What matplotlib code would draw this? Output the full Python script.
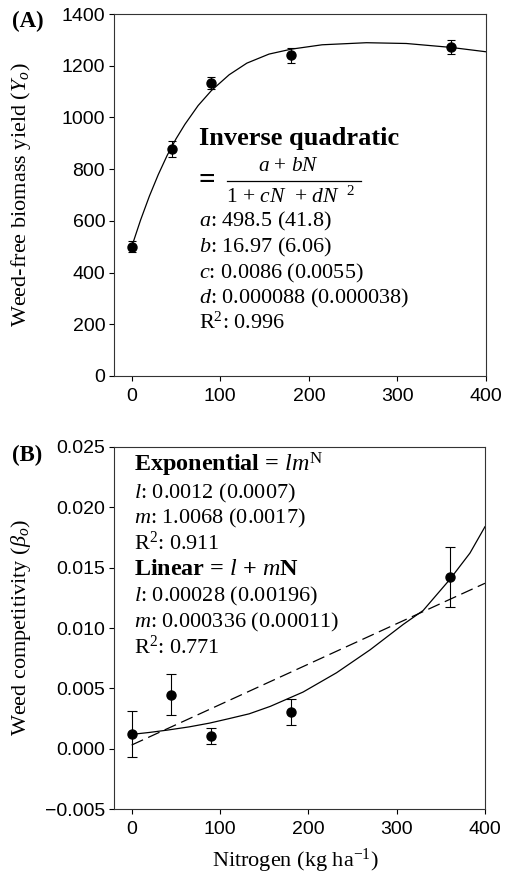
import numpy as np
import matplotlib
matplotlib.use('Agg')
import matplotlib.pyplot as plt

# data
nitrogen = [0, 45, 90, 180, 360]

yield_mean = [500, 878, 1132, 1240, 1272]
yield_err = [22, 30, 23, 30, 26]

# fitted inverse quadratic curve
curve_a_n = [0, 10, 20, 30, 40, 50, 60, 75, 90, 110, 130, 155, 180, 215, 265, 310, 360, 400]
curve_a_y = [500, 603, 696, 779, 853, 917, 973, 1046, 1104, 1165, 1210, 1245, 1264, 1281, 1289, 1286, 1271, 1254]

beta_mean = [0.00121, 0.00447, 0.00108, 0.00306, 0.01423]
beta_err = [0.0019, 0.0017, 0.00066, 0.00105, 0.0025]

# exponential fit (solid) and linear fit (dashed)
curve_b_n = [0, 20, 40, 65, 88, 110, 133, 157, 194, 232, 270, 307.5, 330, 360, 383, 400]
curve_b_y = [0.0012, 0.00136, 0.00155, 0.00182, 0.00213, 0.0025, 0.0029, 0.00352, 0.0047,
             0.0063, 0.0082, 0.0103, 0.01145, 0.0140, 0.0162, 0.01838]
linear_n = [0, 400]
linear_y = [0.00032, 0.0137]

plt.rcParams['font.family'] = ['Liberation Sans', 'DejaVu Sans']
plt.rcParams['mathtext.fontset'] = 'custom'
plt.rcParams['mathtext.rm'] = 'Liberation Serif'
plt.rcParams['mathtext.it'] = 'Liberation Serif:italic'
plt.rcParams['mathtext.bf'] = 'Liberation Serif:bold'

serif = 'Liberation Serif'

fig = plt.figure(figsize=(5.08, 8.76), dpi=100)
ax1 = fig.add_axes([0.2244, 0.5708, 0.7323, 0.4132])
ax2 = fig.add_axes([0.2244, 0.0761, 0.7303, 0.4140])

for ax in (ax1, ax2):
    ax.tick_params(direction='out', length=3.3, width=0.8, labelsize=14)
    ax.tick_params(axis='x', pad=5)
    ax.tick_params(axis='y', pad=3)
    for s in ax.spines.values():
        s.set_linewidth(0.8)
        s.set_color('#333333')
    ax.set_xlim(-20, 400)
    ax.set_xticks([0, 100, 200, 300, 400])

# ---- panel A ----
ax1.plot(curve_a_n, curve_a_y, color='black', lw=0.9)
ax1.errorbar(nitrogen, yield_mean, yerr=yield_err, fmt='o', color='black',
             ms=6.5, capsize=3.2, elinewidth=0.8, capthick=0.8)
ax1.set_ylim(0, 1400)
ax1.set_yticks(range(0, 1401, 200))
ax1.set_ylabel('Weed-free biomass yield ($Y_o$)', family=serif, fontsize=16)
ax1.yaxis.set_label_coords(-0.218, 0.5)

tA = ax1.transAxes
ax1.text(0.228, 0.657, 'Inverse quadratic', transform=tA, family=serif,
         fontweight='bold', fontsize=19, va='center')
ax1.text(0.226, 0.541, '=', transform=tA, family=serif, fontweight='bold',
         fontsize=21, va='center')
ax1.text(0.468, 0.578, '$a$ + $bN$', transform=tA, family=serif, fontsize=15.3,
         ha='center', va='center')
ax1.plot([0.303, 0.663], [0.539, 0.539], transform=tA, color='black', lw=0.9)
ax1.text(0.473, 0.494, '1 + $cN$  + $dN$ $^{\\ 2}$', transform=tA, family=serif,
         fontsize=15.5, ha='center', va='center')
params_a = ['$a$: 498.5 (41.8)', '$b$: 16.97 (6.06)', '$c$: 0.0086 (0.0055)',
            '$d$: 0.000088 (0.000038)', 'R$^2$: 0.996']
ys_a = [0.426, 0.356, 0.284, 0.215, 0.146]
for txt, yy in zip(params_a, ys_a):
    ax1.text(0.228, yy, txt, transform=tA, family=serif, fontsize=15.9, va='center')

# ---- panel B ----
ax2.plot(curve_b_n, curve_b_y, color='black', lw=0.9)
ax2.plot(linear_n, linear_y, color='black', lw=0.9, linestyle=(0, (10, 4.5)))
ax2.errorbar(nitrogen, beta_mean, yerr=beta_err, fmt='o', color='black',
             ms=6.5, capsize=3.6, elinewidth=0.8, capthick=0.8)
ax2.set_ylim(-0.005, 0.025)
ax2.set_yticks(np.arange(-0.005, 0.0251, 0.005))
ax2.set_yticklabels(['\u22120.005', '0.000', '0.005', '0.010', '0.015', '0.020', '0.025'])
ax2.set_ylabel('Weed competitivity ($\\beta_o$)', family=serif, fontsize=16)
ax2.yaxis.set_label_coords(-0.218, 0.5)
ax2.set_xlabel('Nitrogen (kg ha$^{\\mathrm{-1}}$)', family=serif, fontsize=16)
ax2.xaxis.set_label_coords(0.488, -0.103)

tB = ax2.transAxes
ax2.text(0.054, 0.949, 'Exponential = $lm^{\\mathrm{N}}$', transform=tB, family=serif,
         fontweight='bold', fontsize=17.4, va='center')
lines_b = [('$l$: 0.0012 (0.0007)', 0.871), ('$m$: 1.0068 (0.0017)', 0.802),
           ('R$^2$: 0.911', 0.733)]
for txt, yy in lines_b:
    ax2.text(0.054, yy, txt, transform=tB, family=serif, fontsize=16, va='center')
ax2.text(0.054, 0.660, 'Linear = $l$ + $m$N', transform=tB, family=serif,
         fontweight='bold', fontsize=17.4, va='center')
lines_b2 = [('$l$: 0.00028 (0.00196)', 0.586), ('$m$: 0.000336 (0.00011)', 0.514),
            ('R$^2$: 0.771', 0.447)]
for txt, yy in lines_b2:
    ax2.text(0.054, yy, txt, transform=tB, family=serif, fontsize=16, va='center')

fig.text(12 / 508, 1 - 21.7 / 876, '(A)', family=serif, fontweight='bold',
         fontsize=16.5, va='center')
fig.text(12 / 508, 1 - 455 / 876, '(B)', family=serif, fontweight='bold',
         fontsize=16.5, va='center')

fig.savefig('out.png', dpi=100)
